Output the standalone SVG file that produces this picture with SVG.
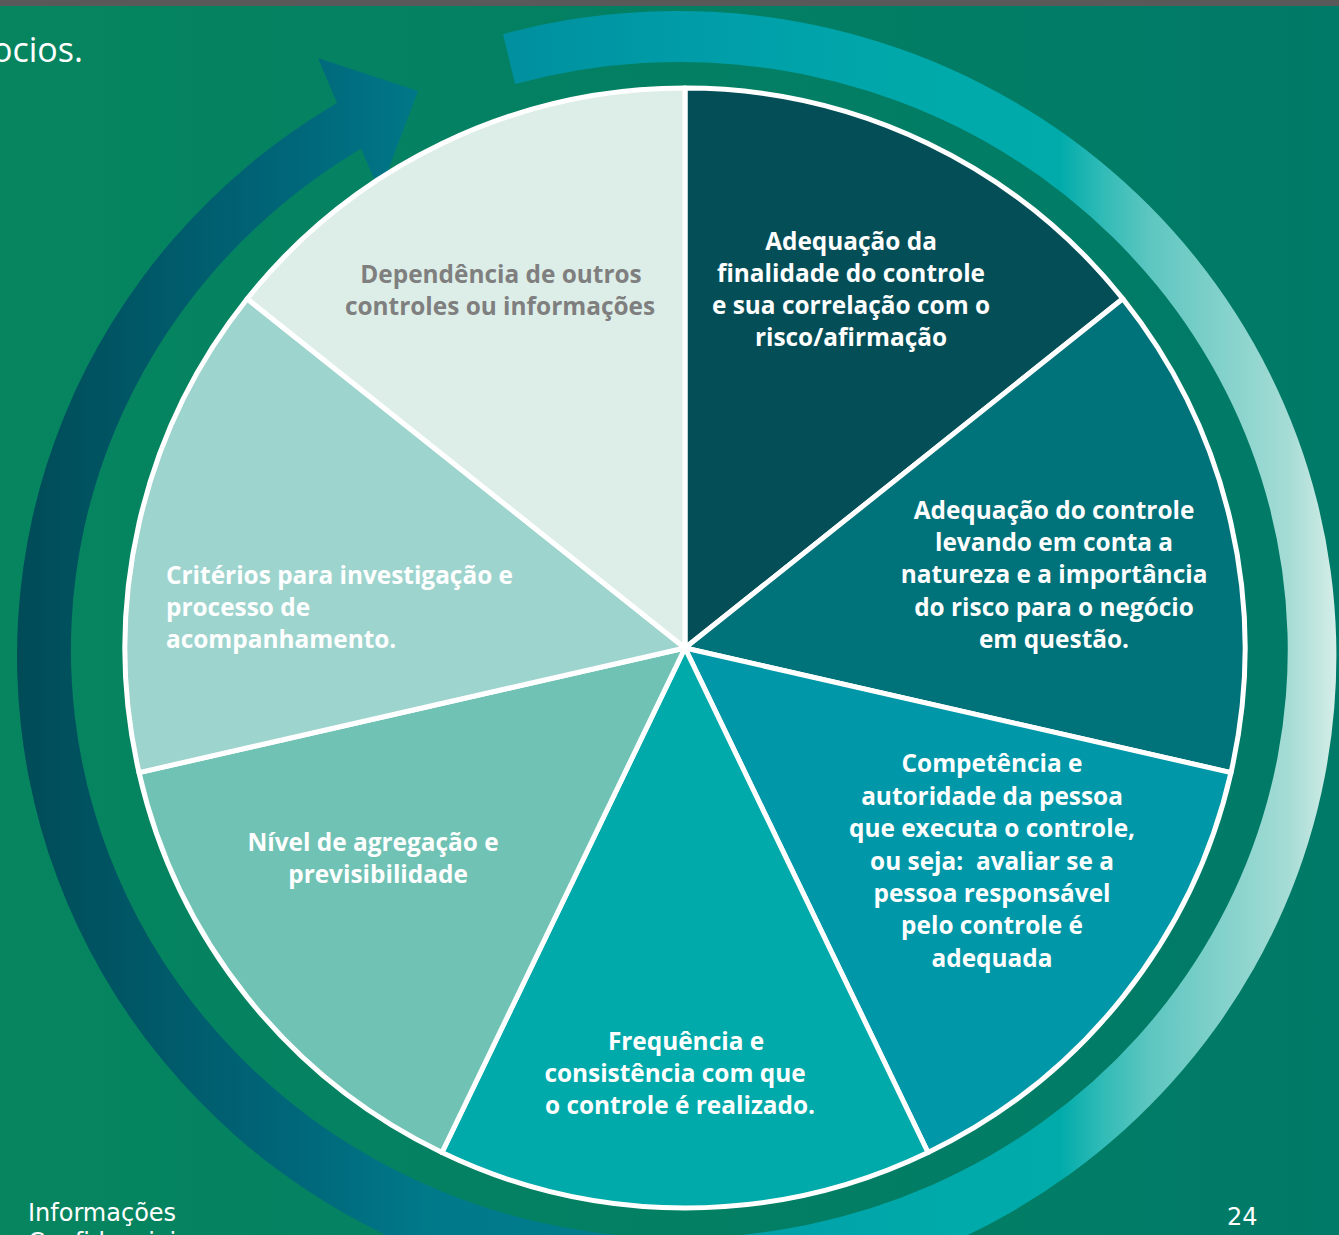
<svg xmlns="http://www.w3.org/2000/svg" width="1339" height="1235" viewBox="0 0 1339 1235">
  <defs>
    <linearGradient id="bg" x1="0" y1="0" x2="1339" y2="0" gradientUnits="userSpaceOnUse">
      <stop offset="0" stop-color="#06855F"/>
      <stop offset="1" stop-color="#007A68"/>
    </linearGradient>
    <linearGradient id="gLeft" x1="17" y1="0" x2="700" y2="0" gradientUnits="userSpaceOnUse">
      <stop offset="0" stop-color="#004B57"/>
      <stop offset="0.41" stop-color="#00677A"/>
      <stop offset="0.6" stop-color="#007989"/>
      <stop offset="1" stop-color="#007E8E"/>
    </linearGradient>
    <linearGradient id="gRight" x1="500" y1="0" x2="1339" y2="0" gradientUnits="userSpaceOnUse">
      <stop offset="0" stop-color="#008F9E"/>
      <stop offset="0.24" stop-color="#009DA9"/>
      <stop offset="0.48" stop-color="#00A8AA"/>
      <stop offset="0.667" stop-color="#00ABAA"/>
      <stop offset="0.715" stop-color="#2EBAB6"/>
      <stop offset="0.774" stop-color="#5DC6C0"/>
      <stop offset="0.94" stop-color="#A5DCD5"/>
      <stop offset="1" stop-color="#D8EEE9"/>
    </linearGradient>
    <style>
      .slice { stroke: #FFFFFF; stroke-width: 5; stroke-linejoin: round; }
      .lbl { font-family: "Open Sans", "Noto Sans", "DejaVu Sans", sans-serif; font-weight: 700; font-size: 24.4px; fill: #FFFFFF; text-anchor: middle; }
      .gray { fill: #7F7F7F; }
      .left { text-anchor: start; }
      .foot { font-family: "DejaVu Sans", "Verdana", sans-serif; font-size: 24px; fill: #FFFFFF; }
    </style>
  </defs>

  <!-- background -->
  <rect x="0" y="0" width="1339" height="1235" fill="url(#bg)"/>
  <rect x="0" y="0" width="1339" height="6" fill="#595959"/>
  <text x="-8" y="62" font-family="'Open Sans', 'Noto Sans', sans-serif" font-size="34" fill="#FFFFFF">ocios.</text>

  <!-- cycle arrows -->
  <g id="connectors">
    <path id="arc-right" fill="url(#gRight)" d="M503 34 A659 645 0 1 1 676 1301 L679 1238 A608 588 0 1 0 515 84 Z"/>
    <path id="arc-left" fill="url(#gLeft)" d="M676 1301 A659 645 0 0 1 337 102.9 L318 58 L418 91 L380 192 L361 148.8 A608 588 0 0 0 679 1238 Z"/>
  </g>

  <!-- pie slices -->
  <g id="node-1">
    <path class="slice" fill="#034E57" d="M685 648 L685 88 A560 560 0 0 1 1122.8 298.8 Z"/>
    <text class="lbl" x="851" y="250">Adequação da</text>
    <text class="lbl" x="851" y="282">finalidade do controle</text>
    <text class="lbl" x="851" y="314">e sua correlação com o</text>
    <text class="lbl" x="851" y="346">risco/afirmação</text>
  </g>
  <g id="node-2">
    <path class="slice" fill="#00727A" d="M685 648 L1122.8 298.8 A560 560 0 0 1 1231 772.6 Z"/>
    <text class="lbl" x="1054" y="519">Adequação do controle</text>
    <text class="lbl" x="1054" y="551">levando em conta a</text>
    <text class="lbl" x="1054" y="583">natureza e a importância</text>
    <text class="lbl" x="1054" y="616">do risco para o negócio</text>
    <text class="lbl" x="1054" y="648">em questão.</text>
  </g>
  <g id="node-3">
    <path class="slice" fill="#0098A8" d="M685 648 L1231 772.6 A560 560 0 0 1 928 1152.5 Z"/>
    <text class="lbl" x="992" y="772">Competência e</text>
    <text class="lbl" x="992" y="805">autoridade da pessoa</text>
    <text class="lbl" x="992" y="837">que executa o controle,</text>
    <text class="lbl" x="992" y="870" xml:space="preserve">ou seja:  avaliar se a</text>
    <text class="lbl" x="992" y="902">pessoa responsável</text>
    <text class="lbl" x="992" y="934">pelo controle é</text>
    <text class="lbl" x="992" y="967">adequada</text>
  </g>
  <g id="node-4">
    <path class="slice" fill="#00AAAA" d="M685 648 L928 1152.5 A560 560 0 0 1 442 1152.5 Z"/>
    <text class="lbl" x="686" y="1050">Frequência e</text>
    <text class="lbl" x="675" y="1082">consistência com que</text>
    <text class="lbl" x="680" y="1114">o controle é realizado.</text>
  </g>
  <g id="node-5">
    <path class="slice" fill="#70C2B4" d="M685 648 L442 1152.5 A560 560 0 0 1 139 772.6 Z"/>
    <text class="lbl" x="373" y="851">Nível de agregação e</text>
    <text class="lbl" x="378" y="883">previsibilidade</text>
  </g>
  <g id="node-6">
    <path class="slice" fill="#9ED4CE" d="M685 648 L139 772.6 A560 560 0 0 1 247.2 298.8 Z"/>
    <text class="lbl left" x="166" y="584">Critérios para investigação e</text>
    <text class="lbl left" x="166" y="616">processo de</text>
    <text class="lbl left" x="166" y="648">acompanhamento.</text>
  </g>
  <g id="node-7">
    <path class="slice" fill="#DDEEE8" d="M685 648 L247.2 298.8 A560 560 0 0 1 685 88 Z"/>
    <text class="lbl gray" x="501" y="283">Dependência de outros</text>
    <text class="lbl gray" x="500" y="315">controles ou informações</text>
  </g>

  <!-- footer -->
  <text class="foot" x="28" y="1221">Informações</text>
  <text class="foot" x="28" y="1250">Confidenciais</text>
  <text class="foot" x="1227" y="1225" font-size="26">24</text>
</svg>
